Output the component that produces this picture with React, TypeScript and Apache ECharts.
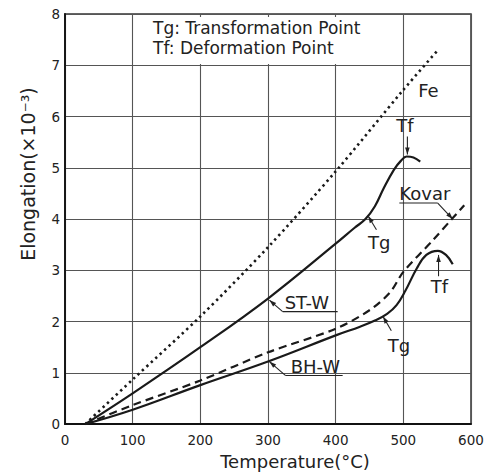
import React, { useEffect, useRef } from "react";
import * as echarts from "echarts";

// ---- data (Temperature °C, Elongation ×10^-3) ----
const feT = [30, 100, 200, 300, 400, 500, 550];
const feV = [0, 0.87, 2.1, 3.45, 4.93, 6.52, 7.28];

const stwT = [30, 100, 200, 300, 400, 428, 444, 458, 471, 486, 496, 505, 515, 525];
const stwV = [0, 0.6, 1.5, 2.45, 3.52, 3.83, 4.0, 4.25, 4.6, 4.96, 5.13, 5.22, 5.2, 5.12];

const kovarT = [30, 100, 200, 300, 400, 451, 481, 500, 544, 573, 590];
const kovarV = [0, 0.37, 0.85, 1.4, 1.86, 2.23, 2.58, 2.97, 3.59, 4.02, 4.27];

const bhwT = [30, 100, 200, 300, 402, 436, 458, 476, 490, 503, 520, 534, 551, 563, 573];
const bhwV = [0, 0.28, 0.76, 1.22, 1.74, 1.9, 2.02, 2.15, 2.32, 2.6, 3.04, 3.3, 3.38, 3.3, 3.12];

const xTicks = [0, 100, 200, 300, 400, 500, 600];
const yTicks = [0, 1, 2, 3, 4, 5, 6, 7, 8];

const legendLines = ["Tg: Transformation Point", "Tf: Deformation Point"];

const pairs = (xs: number[], ys: number[]) => xs.map((x, i) => [x, ys[i]]);

const FONT = '"DejaVu Sans", "Liberation Sans", Arial, sans-serif';
const INK = "#1a1a1a";

export default function App() {
  const ref = useRef<HTMLDivElement>(null);

  useEffect(() => {
    document.body.style.margin = "0";
    if (!ref.current) return;
    const chart = echarts.init(ref.current, undefined, { renderer: "svg" });

    chart.setOption({
      animation: false,
      backgroundColor: "#ffffff",
      grid: {
        left: 65,
        right: 19,
        top: 14,
        bottom: 49,
        show: true,
        borderColor: "#333",
        borderWidth: 1.5,
      },
      xAxis: {
        type: "value",
        min: xTicks[0],
        max: xTicks[xTicks.length - 1],
        interval: 100,
        name: "Temperature(°C)",
        nameLocation: "middle",
        nameGap: 27,
        nameTextStyle: { fontSize: 18, fontFamily: FONT, color: "#222", padding: [0, 0, 0, 54] },
        axisLine: { show: true, lineStyle: { color: "#111", width: 1.8 } },
        axisTick: { show: false },
        axisLabel: { fontSize: 13.5, fontFamily: FONT, color: "#222", margin: 9 },
        splitLine: { show: true, lineStyle: { color: "#555", width: 1.1 } },
      },
      yAxis: {
        type: "value",
        min: yTicks[0],
        max: yTicks[yTicks.length - 1],
        interval: 1,
        name: "Elongation(×10⁻³)",
        nameLocation: "middle",
        nameRotate: 90,
        nameGap: 28,
        nameTextStyle: { fontSize: 19, fontFamily: FONT, color: "#222", padding: [0, 0, 0, 90] },
        axisLine: { show: true, lineStyle: { color: "#111", width: 1.8 } },
        axisTick: { show: false },
        axisLabel: { fontSize: 13.5, fontFamily: FONT, color: "#222", margin: 5 },
        splitLine: { show: true, lineStyle: { color: "#555", width: 1.1 } },
      },
      series: [
        {
          name: "Fe",
          type: "line",
          smooth: 0.3,
          symbol: "none",
          data: pairs(feT, feV),
          lineStyle: { color: INK, width: 2.6, type: [2.4, 3.6], cap: "butt" },
          z: 3,
        },
        {
          name: "ST-W",
          type: "line",
          smooth: 0.4,
          symbol: "none",
          data: pairs(stwT, stwV),
          lineStyle: { color: INK, width: 2.2 },
          z: 3,
        },
        {
          name: "Kovar",
          type: "line",
          smooth: 0.3,
          symbol: "none",
          data: pairs(kovarT, kovarV),
          lineStyle: { color: INK, width: 2.2, type: [8, 5] },
          z: 3,
        },
        {
          name: "BH-W",
          type: "line",
          smooth: 0.4,
          symbol: "none",
          data: pairs(bhwT, bhwV),
          lineStyle: { color: INK, width: 2.2 },
          z: 3,
        },
      ],
    });

    const px = (p: number[]) => chart.convertToPixel({ gridIndex: 0 }, p) as number[];

    const g: any[] = [];
    const txt = (text: string, x: number, y: number, align = "center", size = 18) => {
      g.push({
        type: "text",
        x,
        y,
        z: 20,
        style: {
          text,
          fill: "#222",
          font: `${size}px ${FONT}`,
          textAlign: align,
          textVerticalAlign: "middle",
        },
      });
    };
    const seg = (x1: number, y1: number, x2: number, y2: number) => {
      g.push({
        type: "line",
        z: 20,
        shape: { x1, y1, x2, y2 },
        style: { stroke: "#222", lineWidth: 1.1 },
      });
    };
    const arrow = (x1: number, y1: number, x2: number, y2: number) => {
      seg(x1, y1, x2, y2);
      const dx = x2 - x1;
      const dy = y2 - y1;
      const L = Math.sqrt(dx * dx + dy * dy) || 1;
      const ux = dx / L;
      const uy = dy / L;
      const len = 7;
      const hw = 2.3;
      const bx = x2 - ux * len;
      const by = y2 - uy * len;
      g.push({
        type: "polygon",
        z: 21,
        shape: {
          points: [
            [x2, y2],
            [bx - uy * hw, by + ux * hw],
            [bx + uy * hw, by - ux * hw],
          ],
        },
        style: { fill: "#222" },
      });
    };

    // legend box
    g.push({
      type: "rect",
      z: 10,
      shape: { x: 136, y: 17, width: 266, height: 47 },
      style: { fill: "#ffffff" },
    });
    txt(legendLines[0], 153, 27.5, "left", 17);
    txt(legendLines[1], 153, 47.5, "left", 17);

    // Fe label
    const fe = px([522, 6.5]);
    txt("Fe", fe[0], fe[1], "left");

    // ST-W Tf
    let t = px([506, 5.26]);
    arrow(t[0], t[1] - 18, t[0], t[1]);
    txt("Tf", t[0] - 2.5, t[1] - 28.5);

    // ST-W Tg
    t = px([448, 4.06]);
    arrow(t[0] + 8.3, t[1] + 13.7, t[0], t[1]);
    txt("Tg", t[0] + 11, t[1] + 26.5);

    // Kovar
    t = px([573, 4.0]);
    seg(t[0] - 53.4, t[1] - 16, t[0] - 15, t[1] - 16);
    arrow(t[0] - 15, t[1] - 16, t[0], t[1]);
    txt("Kovar", t[0] - 53.4, t[1] - 26, "left");

    // ST-W label
    t = px([302, 2.42]);
    seg(t[0] + 13.3, t[1] + 11.6, t[0] + 68.3, t[1] + 11.6);
    arrow(t[0] + 13.3, t[1] + 11.6, t[0], t[1]);
    txt("ST-W", t[0] + 15.3, t[1] + 2.3, "left");

    // BH-W label
    t = px([302, 1.22]);
    seg(t[0] + 16.3, t[1] + 14, t[0] + 73.3, t[1] + 14);
    arrow(t[0] + 16.3, t[1] + 14, t[0], t[1]);
    txt("BH-W", t[0] + 21.3, t[1] + 4.7, "left");

    // BH-W Tg
    t = px([470, 2.1]);
    arrow(t[0] + 8.3, t[1] + 14.3, t[0], t[1]);
    txt("Tg", t[0] + 15.8, t[1] + 29.3);

    // BH-W Tf
    t = px([552, 3.3]);
    arrow(t[0], t[1] + 21.3, t[0], t[1]);
    txt("Tf", t[0] + 1, t[1] + 31.3);

    chart.setOption({ graphic: g });

    return () => chart.dispose();
  }, []);

  return <div ref={ref} style={{ width: 490, height: 475 }} />;
}
